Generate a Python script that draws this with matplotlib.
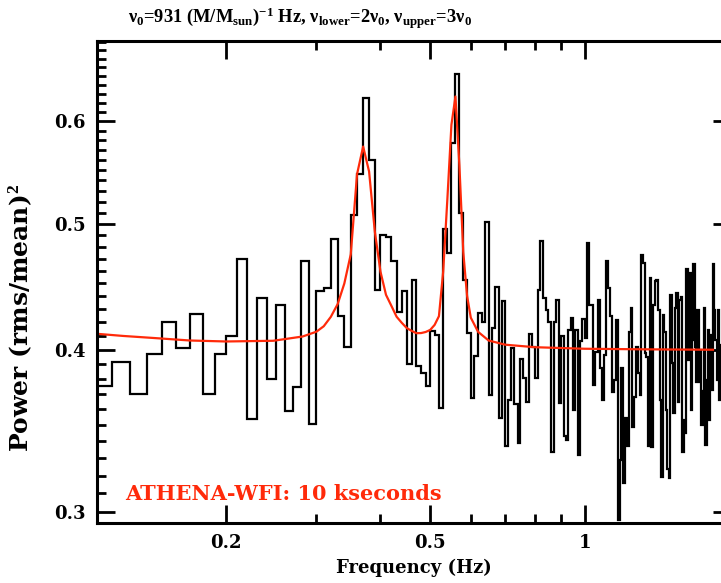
import numpy as np
import matplotlib
matplotlib.use("Agg")
import matplotlib.pyplot as plt
from matplotlib.ticker import FixedLocator, NullFormatter, FixedFormatter

plt.rcParams['font.family'] = ['DejaVu Serif']
plt.rcParams['font.weight'] = 'bold'
plt.rcParams['mathtext.fontset'] = 'custom'
plt.rcParams['mathtext.rm'] = 'Liberation Serif:bold'
plt.rcParams['mathtext.it'] = 'Liberation Serif:bold'
plt.rcParams['mathtext.bf'] = 'Liberation Serif:bold'
plt.rcParams['mathtext.default'] = 'rm'

# ---- data -------------------------------------------------------------
first_edge = 0.11
bin_width = 0.01
power = [
    0.3748, 0.3916, 0.3700, 0.3972, 0.4204, 0.4012, 0.4264, 0.3696, 0.3970,   # 0.11-0.19
    0.4095, 0.4697, 0.3540, 0.4383, 0.3800, 0.4334, 0.3590, 0.3747, 0.4678, 0.3506,  # 0.20-0.29
    0.4440, 0.4460, 0.4870, 0.4243, 0.4017, 0.5080, 0.5460, 0.6245, 0.5600, 0.4449,  # 0.30-0.39
    0.4905, 0.4884, 0.4683, 0.4280, 0.4440, 0.3900, 0.4529, 0.3883, 0.3836, 0.3752,  # 0.40-0.49
    0.4137, 0.4107, 0.3607, 0.4954, 0.4752, 0.5770, 0.6520, 0.5097, 0.4529, 0.4119,  # 0.50-0.59
    0.3672, 0.3953, 0.4267, 0.4203, 0.5021, 0.3693, 0.4155, 0.4470, 0.3544, 0.4363,  # 0.60-0.69
    0.3370, 0.3656, 0.4012, 0.3635, 0.3391, 0.3934, 0.3805, 0.3649, 0.4112, 0.4023,  # 0.70-0.79
    0.3805, 0.4449, 0.4847, 0.4383, 0.4294, 0.4203, 0.3334, 0.4203, 0.4370, 0.3642,  # 0.80-0.89
    0.4095, 0.3430, 0.3410, 0.4140, 0.4228, 0.3597, 0.4140, 0.3320, 0.4064, 0.4226,  # 0.90-0.99
    0.4085, 0.4833, 0.4327, 0.4327, 0.3758, 0.3986, 0.4370, 0.3875, 0.3661, 0.3965,  # 1.00-1.09
    0.4678, 0.4466, 0.4245, 0.3709, 0.3790, 0.4215, 0.2960, 0.3291, 0.3875, 0.3158,  # 1.10-1.19
    0.3544, 0.3370, 0.4129, 0.4311, 0.3490, 0.3676, 0.4021, 0.3838, 0.3693, 0.4733,  # 1.20-1.29
    0.4662, 0.3980, 0.3950, 0.3370, 0.4546, 0.3365, 0.4327, 0.4517, 0.4524, 0.4294,  # 1.30-1.39
    0.3661, 0.3194, 0.4257, 0.4129, 0.3597, 0.3236, 0.3187, 0.4409, 0.3909, 0.3578,  # 1.40-1.49
    0.4311, 0.4422, 0.3648, 0.4370, 0.4395, 0.3334, 0.3533, 0.3451, 0.4614, 0.3929,  # 1.50-1.59
    0.4586, 0.3597, 0.4071, 0.4657, 0.4021, 0.3775, 0.4294, 0.3775, 0.4000, 0.3502,  # 1.60-1.69
    0.3715, 0.4311, 0.3380, 0.3790, 0.4140, 0.3533, 0.4108, 0.3727, 0.4657, 0.4294,  # 1.70-1.79
    0.4071, 0.3790, 0.4294, 0.3661, 0.4036, 0.3900, 0.4200, 0.3700, 0.4100, 0.3600,  # 1.80-1.89
    0.4300, 0.4000, 0.3800,                                                          # 1.90-1.92
]
edges = first_edge + bin_width * np.arange(len(power) + 1)

model_freq = [0.11, 0.126, 0.146, 0.17, 0.20, 0.247, 0.282, 0.30, 0.31, 0.32, 0.33,
              0.34, 0.35, 0.36, 0.37, 0.38, 0.39, 0.40, 0.41, 0.42, 0.43, 0.44, 0.45,
              0.46, 0.47, 0.48, 0.49, 0.50, 0.51, 0.52, 0.53, 0.54, 0.55, 0.56, 0.57,
              0.58, 0.59, 0.60, 0.62, 0.65, 0.70, 0.80, 1.00, 1.30, 1.78]
model_power = [0.4117, 0.4099, 0.4083, 0.4066, 0.4059, 0.4064, 0.4095, 0.4130, 0.4170,
               0.4240, 0.4337, 0.4498, 0.4737, 0.5460, 0.5735, 0.5487, 0.4930, 0.4593,
               0.4409, 0.4324, 0.4241, 0.4196, 0.4157, 0.4136, 0.4119, 0.4120, 0.4128,
               0.4143, 0.4180, 0.4245, 0.4593, 0.5219, 0.5960, 0.6267, 0.5550, 0.4758,
               0.4402, 0.4234, 0.4129, 0.4066, 0.4036, 0.4018, 0.4007, 0.4003, 0.4000]

x_major = [0.2, 0.5, 1, 2]
x_major_labels = ['0.2', '0.5', '1', '2']
x_minor = [0.3, 0.4, 0.6, 0.7, 0.8, 0.9]
y_major = [0.3, 0.4, 0.5, 0.6]
y_major_labels = ['0.3', '0.4', '0.5', '0.6']
y_minor = [v / 100 for v in range(29, 70) if v % 10 != 0]

title = (r'$\nu_0$=931 (M/M$_{\rm sun}$)$^{-1}$ Hz, $\nu_{\rm lower}$=2$\nu_0$, '
         r'$\nu_{\rm upper}$=3$\nu_0$')
annotation = 'ATHENA-WFI: 10 kseconds'
red = '#ff2a0a'

# ---- figure -----------------------------------------------------------
W, H = 721, 583
fig = plt.figure(figsize=(W / 100, H / 100), dpi=100)
ax = fig.add_axes([97 / W, 60 / H, 634 / W, 482 / H])
ax.set_xscale('log')
ax.set_yscale('log')

ax.stairs(power, edges, baseline=None, color='black', linewidth=1.6)
ax.plot(model_freq, model_power, color=red, linewidth=1.6)

ax.set_xlim(0.112, 1.93)
ax.set_ylim(0.2942, 0.6915)

ax.xaxis.set_major_locator(FixedLocator(x_major))
ax.xaxis.set_major_formatter(FixedFormatter(x_major_labels))
ax.xaxis.set_minor_locator(FixedLocator(x_minor))
ax.xaxis.set_minor_formatter(NullFormatter())
ax.yaxis.set_major_locator(FixedLocator(y_major))
ax.yaxis.set_major_formatter(FixedFormatter(y_major_labels))
ax.yaxis.set_minor_locator(FixedLocator(y_minor))
ax.yaxis.set_minor_formatter(NullFormatter())

ax.tick_params(which='both', direction='in', top=True, right=True, width=2, colors='black')
ax.tick_params(which='major', length=13, pad=8, labelsize=13)
ax.tick_params(which='minor', length=6.5)
for lab in ax.get_xticklabels() + ax.get_yticklabels():
    lab.set_fontweight('bold')
for sp in ax.spines.values():
    sp.set_linewidth(2.2)

fig.text(300 / W, 1 - 18 / H, title, ha='center', va='center', fontsize=13.3,
         fontweight='bold', family='Liberation Serif')
fig.text(414 / W, 1 - 568 / H, 'Frequency (Hz)', ha='center', va='center', fontsize=13, fontweight='bold')
fig.text(20 / W, 1 - 318 / H, r'Power (rms/mean)$^2$', ha='center', va='center',
         rotation=90, fontsize=18, fontweight='bold')
fig.text(125 / W, 1 - 500 / H, annotation, ha='left', va='baseline', fontsize=15,
         fontweight='bold', color=red)

fig.savefig('out.png', dpi=100)
